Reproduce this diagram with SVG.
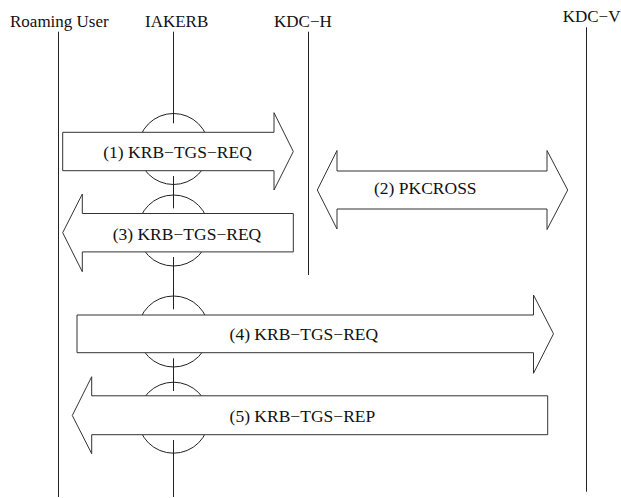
<svg xmlns="http://www.w3.org/2000/svg" width="621" height="498" viewBox="0 0 621 498">
<style>
.hdr{font-family:"Liberation Serif","Times New Roman",serif;font-size:17px;fill:#111}
.lbl{font-family:"Liberation Serif","Times New Roman",serif;font-size:17.5px;fill:#111}
.life{stroke:#222;stroke-width:1;fill:none}
.ring{stroke:#222;stroke-width:1;fill:none}
.arrow{stroke:#333;stroke-width:1;fill:#fff;stroke-linejoin:miter}
</style>
<rect width="621" height="498" fill="#fff"/>
<g id="roaming-user">
<text class="hdr" x="10" y="26.7">Roaming User</text>
<line class="life" x1="58.5" y1="31.7" x2="58.5" y2="497"/>
</g>
<g id="iakerb">
<text class="hdr" x="145" y="26.7">IAKERB</text>
<path class="life" d="M173.5,31.7V123.3M173.5,176V208.3M173.5,257V309.3M173.5,358.3V391M173.5,440V497"/>
<circle class="ring" cx="173.5" cy="149" r="35.5"/>
<circle class="ring" cx="173.5" cy="230.5" r="35.5"/>
<circle class="ring" cx="173.5" cy="331.5" r="35.5"/>
<circle class="ring" cx="173.5" cy="417.7" r="35.5"/>
</g>
<g id="kdc-h">
<text class="hdr" x="274" y="26.7">KDC−H</text>
<line class="life" x1="308.5" y1="31.7" x2="308.5" y2="275"/>
</g>
<g id="kdc-v">
<text class="hdr" x="562.7" y="22.3">KDC−V</text>
<line class="life" x1="586.5" y1="27.3" x2="586.5" y2="491.7"/>
</g>
<g id="connectors">
<g id="msg1">
<path class="arrow" d="M62.7,132.3H274V112.7L293.3,151.5L274,190V170.7H62.7Z"/>
<text class="lbl" x="103.3" y="158.3">(1) KRB−TGS−REQ</text>
</g>
<g id="msg2">
<path class="arrow" d="M337,171H547V150.5L567.7,190L547,229.5V209H337V229L317.3,190L337,150.5Z"/>
<text class="lbl" x="374" y="194.3">(2) PKCROSS</text>
</g>
<g id="msg3">
<path class="arrow" d="M293.3,213.5H82.3V194L62.7,232.7L82.3,271.7V251.9H293.3Z"/>
<text class="lbl" x="112.7" y="240">(3) KRB−TGS−REQ</text>
</g>
<g id="msg4">
<path class="arrow" d="M77,315H533.5V295L553.5,333.8L533.5,373.3V352.7H77Z"/>
<text class="lbl" x="229.6" y="340">(4) KRB−TGS−REQ</text>
</g>
<g id="msg5">
<path class="arrow" d="M547.7,395.8H91.7V376.7L72.3,415.5L91.7,453.7V434.7H547.7Z"/>
<text class="lbl" x="229.6" y="421.7">(5) KRB−TGS−REP</text>
</g>
</g>
</svg>
